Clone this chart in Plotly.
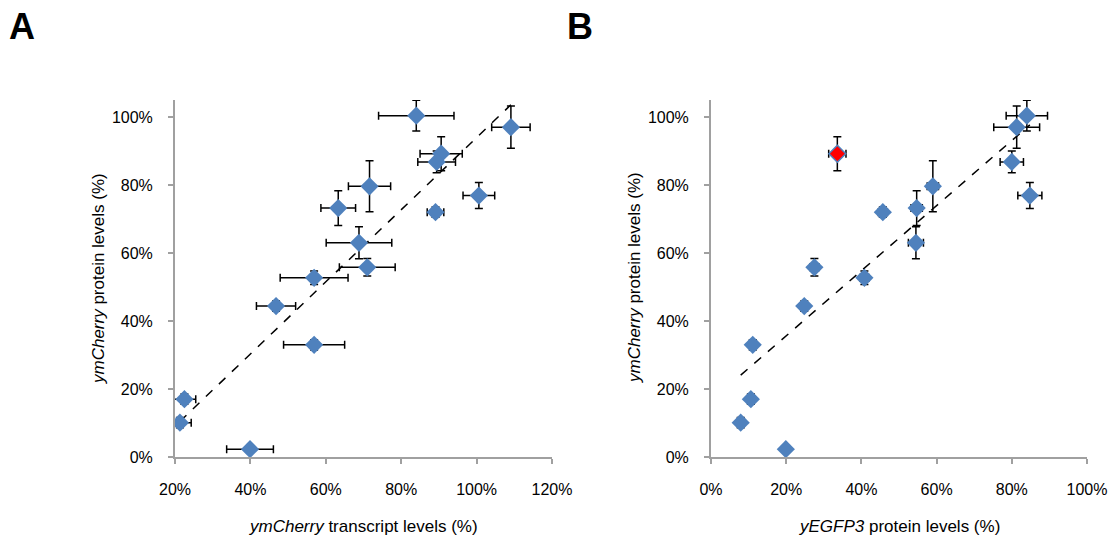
import numpy as np
import plotly.graph_objects as go

# ---------------- data ----------------
protein_y = [100.4, 97.0, 89.2, 86.8, 79.6, 73.2, 76.9, 72.0, 63.0, 55.8, 52.7, 44.4, 33.0, 17.0, 10.1, 2.3]
protein_y_err = [4.5, 6.2, 5.0, 3.2, 7.5, 5.1, 3.8, 1.5, 4.7, 2.6, 2.0, 1.5, 1.5, 1.5, 1.5, 0.8]

transcript_x = [84.0, 109.1, 90.6, 89.4, 71.6, 63.3, 100.6, 89.1, 68.8, 71.0, 56.9, 46.8, 56.9, 22.5, 21.3, 39.9]
transcript_x_err = [10.0, 5.1, 5.6, 5.0, 5.6, 4.6, 4.2, 2.2, 8.7, 7.4, 9.0, 5.2, 8.1, 3.0, 3.0, 6.2]

egfp_x = [84.0, 81.3, 33.6, 80.0, 59.0, 54.7, 84.8, 45.7, 54.5, 27.5, 40.8, 24.8, 11.1, 10.6, 7.9, 19.9]
egfp_x_err = [5.5, 6.1, 2.3, 3.1, 1.5, 1.5, 3.2, 1.2, 2.0, 1.2, 1.2, 1.0, 1.0, 1.0, 1.0, 0.5]

highlight_index = 2  # red point in panel B

a_xticks = [20, 40, 60, 80, 100, 120]
b_xticks = [0, 20, 40, 60, 80, 100]
yticks = [0, 20, 40, 60, 80, 100]

panel_labels = ["A", "B"]
a_xtitle = "<i>ymCherry</i> transcript levels (%)"
b_xtitle = "<i>yEGFP3</i> protein levels (%)"
ytitle = "<i>ymCherry</i> protein levels (%)"

# ---------------- styling ----------------
BLUE = "#4F81BD"
AXIS = "#A0A0A0"
FONT = "Liberation Sans, Arial, sans-serif"
W, H = 1112, 542


def px_x(p):
    return p / W


def px_y(p):
    return 1 - p / H


def pct(vals):
    return [f"{v}%" for v in vals]


fig = go.Figure()


def add_panel(xs, xerr, xa, ya, highlight=None):
    xs = np.array(xs, dtype=float)
    ys = np.array(protein_y, dtype=float)
    slope, icpt = np.polyfit(xs, ys, 1)
    lx = np.array([xs.min(), xs.max()])
    fig.add_trace(go.Scatter(x=lx, y=slope * lx + icpt, mode="lines",
                             line=dict(color="black", width=1.5, dash="dash"),
                             xaxis=xa, yaxis=ya, hoverinfo="skip", showlegend=False))
    idx = [i for i in range(len(xs)) if i != highlight]
    fig.add_trace(go.Scatter(
        x=[xs[i] for i in idx], y=[ys[i] for i in idx], mode="markers",
        marker=dict(symbol="diamond", size=14, color=BLUE, line=dict(width=0)),
        error_x=dict(type="data", array=[xerr[i] for i in idx], color="black", thickness=1.5, width=4),
        error_y=dict(type="data", array=[protein_y_err[i] for i in idx], color="black", thickness=1.5, width=4),
        xaxis=xa, yaxis=ya, showlegend=False))
    if highlight is not None:
        fig.add_trace(go.Scatter(
            x=[xs[highlight]], y=[ys[highlight]], mode="markers",
            marker=dict(symbol="diamond", size=13, color="red", line=dict(width=1.5, color=BLUE)),
            error_x=dict(type="data", array=[xerr[highlight]], color="black", thickness=1.5, width=4),
            error_y=dict(type="data", array=[protein_y_err[highlight]], color="black", thickness=1.5, width=4),
            xaxis=xa, yaxis=ya, showlegend=False))


add_panel(transcript_x, transcript_x_err, "x", "y")
add_panel(egfp_x, egfp_x_err, "x2", "y2", highlight=highlight_index)

ydom = [px_y(457), px_y(100)]
common_axis = dict(showline=True, linecolor=AXIS, linewidth=2, ticks="outside", ticklen=5,
                   tickcolor=AXIS, tickwidth=2, showgrid=False, zeroline=False, automargin=False,
                   tickfont=dict(family=FONT, size=16, color="black"))

fig.update_layout(
    width=W, height=H, margin=dict(l=0, r=0, t=0, b=0),
    paper_bgcolor="white", plot_bgcolor="white",
    font=dict(family=FONT, size=16, color="black"),
    xaxis=dict(domain=[px_x(175), px_x(552)], range=[20, 120], tickvals=a_xticks, ticktext=pct(a_xticks),
               anchor="y", ticklabelstandoff=12, **common_axis),
    yaxis=dict(domain=ydom, range=[0, 105], tickvals=yticks, ticktext=pct(yticks), anchor="x",
               ticklabelstandoff=12, **common_axis),
    xaxis2=dict(domain=[px_x(711), px_x(1087)], range=[0, 100], tickvals=b_xticks, ticktext=pct(b_xticks),
                anchor="y2", ticklabelstandoff=12, **common_axis),
    yaxis2=dict(domain=ydom, range=[0, 105], tickvals=yticks, ticktext=pct(yticks), anchor="x2",
                ticklabelstandoff=12, **common_axis),
)

ann = []
for lab, xc in zip(panel_labels, [22, 580]):
    ann.append(dict(text="<b>" + lab + "</b>", x=px_x(xc), y=px_y(27), xref="paper", yref="paper",
                    showarrow=False, font=dict(family=FONT, size=36, color="black"),
                    xanchor="center", yanchor="middle"))
for xc, t in [((175 + 552) / 2, a_xtitle), ((711 + 1087) / 2, b_xtitle)]:
    ann.append(dict(text=t, x=px_x(xc), y=px_y(526), xref="paper", yref="paper",
                    showarrow=False, font=dict(family=FONT, size=17, color="black"),
                    xanchor="center", yanchor="middle"))
for xc in [98, 634]:
    ann.append(dict(text=ytitle, x=px_x(xc), y=px_y(278), xref="paper", yref="paper",
                    showarrow=False, textangle=-90, font=dict(family=FONT, size=17, color="black"),
                    xanchor="center", yanchor="middle"))
fig.update_layout(annotations=ann)

fig.write_html("out.html")
